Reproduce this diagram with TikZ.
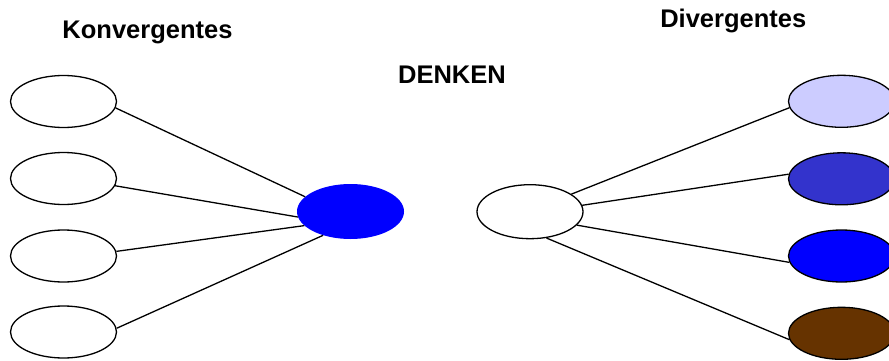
\documentclass[tikz,border=0pt]{standalone}
\usepackage{fontspec}
\setmainfont{Liberation Sans}
\usetikzlibrary{shapes.geometric}
\definecolor{convblue}{HTML}{0000FF}
\definecolor{dlav}{HTML}{CCCCFF}
\definecolor{dmid}{HTML}{3333CC}
\definecolor{dblue}{HTML}{0000FF}
\definecolor{dbrown}{HTML}{663300}
\begin{document}
\begin{tikzpicture}[x=1pt,y=-1pt,
  bubble/.style={ellipse, draw=black, line width=1.3pt, fill=white,
    minimum width=106pt, minimum height=52pt, inner sep=0pt},
  title/.style={font=\fontsize{25.5}{30}\selectfont\bfseries, anchor=base, inner sep=0pt},
  link/.style={line width=1.3pt, draw=black}]
% page frame
\fill[white] (0,0) rectangle (889,361);
\clip (0,0) rectangle (889,361);

% headings
\node[title] (tk) at (147.5,38.7) {Konvergentes};
\node[title] (td) at (733.3,27.3) {Divergentes};
\node[title] (tc) at (452,83.3) {DENKEN};

% convergent side
\node[bubble] (k1) at (63.5,101.5) {};
\node[bubble] (k2) at (63.5,178.5) {};
\node[bubble] (k3) at (63.5,256) {};
\node[bubble] (k4) at (63.5,332) {};
\node[ellipse, fill=convblue, minimum width=107pt, minimum height=55pt, inner sep=0pt] (conv) at (350.5,211.5) {};

% divergent side
\node[bubble, minimum height=54pt] (div) at (530,211.7) {};
\node[bubble, fill=dlav]   (d1) at (841.5,101.3) {};
\node[bubble, fill=dmid]   (d2) at (841.5,178.8) {};
\node[bubble, fill=dblue]  (d3) at (841.5,256) {};
\node[bubble, fill=dbrown] (d4) at (841.5,333.3) {};

% connectors
\draw[link] (k1.-7) -- (conv.162);
\draw[link] (k2.-8) -- (conv.186);
\draw[link] (k3.5) -- (conv.197);
\draw[link] (k4.4) -- (conv.221);
\draw[link] (div.23) -- (d1.187);
\draw[link] (div.7) -- (d2.175);
\draw[link] (div.-16) -- (d3.187);
\draw[link] (div.-58) -- (d4.187);
\end{tikzpicture}
\end{document}
